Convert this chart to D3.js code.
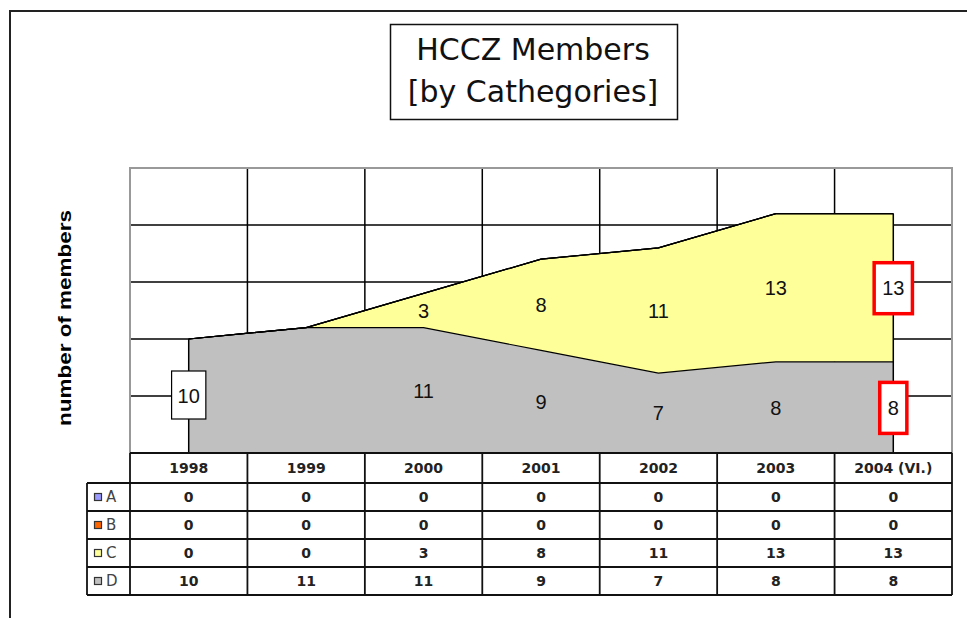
<!DOCTYPE html>
<html>
<head>
<meta charset="utf-8">
<script src="https://cdn.jsdelivr.net/npm/d3@7"></script>
<style>
  html, body { margin: 0; padding: 0; background: #fff; }
  svg { display: block; }
</style>
</head>
<body>
<div id="chart"></div>
<script>
// chart data
const years = ["1998", "1999", "2000", "2001", "2002", "2003", "2004 (VI.)"]
const categories = ["A", "B", "C", "D"]
const valuesA = [0, 0, 0, 0, 0, 0, 0]
const valuesB = [0, 0, 0, 0, 0, 0, 0]
const valuesC = [0, 0, 3, 8, 11, 13, 13]
const valuesD = [10, 11, 11, 9, 7, 8, 8]
const yTicks = [0, 5, 10, 15, 20, 25]
const colors = {A: "#9999ff", B: "#ff6600", C: "#ffff99", D: "#c0c0c0"}

const W = 967, H = 618
const plot = {left: 130, right: 952, top: 168, bottom: 453}
const table = {left: 87, headTop: 453, rowTop: 483, bottom: 595}

const rows = years.map((yr, i) => ({year: yr, A: valuesA[i], B: valuesB[i], C: valuesC[i], D: valuesD[i]}))

const svg = d3.select("#chart").append("svg").attr("width", W).attr("height", H)

// outer frame
svg.append("path").attr("d", `M10,${H} L10,11 L${W},11`)
  .attr("fill", "none").attr("stroke", "#222").attr("stroke-width", 2)

// title
const titleG = svg.append("g")
titleG.append("rect").attr("x", 390.5).attr("y", 24.5).attr("width", 287).attr("height", 95)
  .attr("fill", "#fff").attr("stroke", "#111").attr("stroke-width", 1.5)
titleG.selectAll("text").data(["HCCZ Members", "[by Cathegories]"]).join("text")
  .attr("x", 533).attr("y", (d, i) => 60 + i * 42)
  .attr("text-anchor", "middle")
  .style("font-family", "'DejaVu Sans', sans-serif").style("font-size", "30px").attr("fill", "#111")
  .text(d => d)

const x = d3.scaleBand().domain(years).range([plot.left, plot.right])
const y = d3.scaleLinear().domain([0, 25]).range([plot.bottom, plot.top])
const cx = d => x(d) + x.bandwidth() / 2

// grid
const grid = svg.append("g")
grid.selectAll("line.h").data(yTicks.slice(1, -1)).join("line").attr("class", "h")
  .attr("x1", plot.left).attr("x2", plot.right).attr("y1", d => y(d)).attr("y2", d => y(d))
  .attr("stroke", "#000").attr("stroke-width", 1.5)
grid.selectAll("line.v").data(years.slice(1)).join("line").attr("class", "v")
  .attr("x1", d => x(d)).attr("x2", d => x(d)).attr("y1", plot.top).attr("y2", plot.bottom)
  .attr("stroke", "#000").attr("stroke-width", 1.5)
grid.append("path")
  .attr("d", `M${plot.left},${plot.bottom} V${plot.top} H${plot.right} V${plot.bottom}`)
  .attr("fill", "none").attr("stroke", "#999").attr("stroke-width", 2)

// stacked areas
const stack = d3.stack().keys(["D", "C", "B", "A"])
const layers = stack(rows)
const area = d3.area().x(d => cx(d.data.year)).y0(d => y(d[0])).y1(d => y(d[1]))
const topLine = d3.line().x(d => cx(d.data.year)).y(d => y(d[1]))

svg.append("g").selectAll("path").data(layers).join("path")
  .attr("d", area).attr("fill", d => colors[d.key])

svg.append("g").selectAll("path").data(layers).join("path")
  .attr("d", topLine).attr("fill", "none").attr("stroke", "#000").attr("stroke-width", 1.2)

const total = layers[layers.length - 1]
svg.append("g").selectAll("line").data([total[0], total[total.length - 1]]).join("line")
  .attr("x1", d => cx(d.data.year)).attr("x2", d => cx(d.data.year))
  .attr("y1", d => y(d[1])).attr("y2", plot.bottom)
  .attr("stroke", "#000").attr("stroke-width", 1.5)

// data labels
const hidden = [["D", "1999"]]
const boxed = {"D|1998": "#000", "C|2004 (VI.)": "#ff0000", "D|2004 (VI.)": "#ff0000"}
const labels = []
layers.forEach(layer => layer.forEach(d => {
  const v = d[1] - d[0]
  if (v === 0) return
  if (hidden.some(h => h[0] === layer.key && h[1] === d.data.year)) return
  labels.push({key: layer.key, year: d.data.year, v, yv: (d[0] + d[1]) / 2})
}))

const labG = svg.append("g").selectAll("g").data(labels).join("g")
  .attr("transform", d => `translate(${cx(d.year)},${y(d.yv)})`)
labG.each(function (d) {
  const g = d3.select(this)
  const t = g.append("text").attr("text-anchor", "middle").attr("dy", "0.36em")
    .style("font-family", "'Liberation Sans', Arial, sans-serif").style("font-size", "20px")
    .attr("fill", "#111").text(d.v)
  const c = boxed[d.key + "|" + d.year]
  if (c) {
    const bw = t.node().getComputedTextLength() + (c === "#000" ? 12 : 16)
    const red = c !== "#000"
    g.insert("rect", "text").attr("x", -bw / 2).attr("y", -25).attr("width", bw).attr("height", red ? 51 : 48)
      .attr("fill", "#fff").attr("stroke", c).attr("stroke-width", red ? 3.5 : 1.2)
  }
})

// y axis title
svg.append("text").attr("transform", "translate(71,318) rotate(-90)")
  .attr("text-anchor", "middle")
  .attr("textLength", 216).attr("lengthAdjust", "spacingAndGlyphs")
  .style("font-family", "'Liberation Sans', Arial, sans-serif").style("font-size", "18px").style("font-weight", "bold")
  .text("number of members")

// data table
const r = d3.scaleBand().domain(categories).range([table.rowTop, table.bottom])
const tg = svg.append("g")
const cellFont = s => s.style("font-family", "'DejaVu Sans', Verdana, sans-serif").style("font-size", "14px").style("font-weight", "bold").attr("fill", "#222")

tg.selectAll("text.head").data(years).join("text").attr("class", "head")
  .attr("x", d => cx(d)).attr("y", (table.headTop + table.rowTop) / 2).attr("dy", "0.36em")
  .attr("text-anchor", "middle").call(cellFont).text(d => d)

const series = {A: valuesA, B: valuesB, C: valuesC, D: valuesD}
categories.forEach(cat => {
  tg.selectAll("text.c" + cat).data(series[cat]).join("text").attr("class", "c" + cat)
    .attr("x", (d, i) => cx(years[i])).attr("y", r(cat) + r.bandwidth() / 2).attr("dy", "0.36em")
    .attr("text-anchor", "middle").call(cellFont).text(d => d)
})

// legend keys in first column
const leg = tg.selectAll("g.leg").data(categories).join("g").attr("class", "leg")
  .attr("transform", d => `translate(${table.left},${r(d) + r.bandwidth() / 2})`)
leg.append("rect").attr("x", 7.5).attr("y", -3.5).attr("width", 7).attr("height", 7)
  .attr("fill", d => colors[d]).attr("stroke", "#333").attr("stroke-width", 1.2)
leg.append("text").attr("x", 19).attr("dy", "0.36em")
  .style("font-family", "'DejaVu Sans', Verdana, sans-serif").style("font-size", "15px")
  .attr("fill", "#444").text(d => d)

// table lines
const lines = []
lines.push([plot.left, table.headTop, plot.right, table.headTop])
lines.push([table.left, table.rowTop, plot.right, table.rowTop])
categories.forEach(c => lines.push([table.left, r(c) + r.bandwidth(), plot.right, r(c) + r.bandwidth()]))
years.forEach(yr => lines.push([x(yr), table.headTop, x(yr), table.bottom]))
lines.push([plot.right, table.headTop, plot.right, table.bottom])
lines.push([table.left, table.rowTop, table.left, table.bottom])
tg.selectAll("line").data(lines).join("line")
  .attr("x1", d => d[0]).attr("y1", d => d[1]).attr("x2", d => d[2]).attr("y2", d => d[3])
  .attr("stroke", "#111").attr("stroke-width", 1.8)
</script>
</body>
</html>
